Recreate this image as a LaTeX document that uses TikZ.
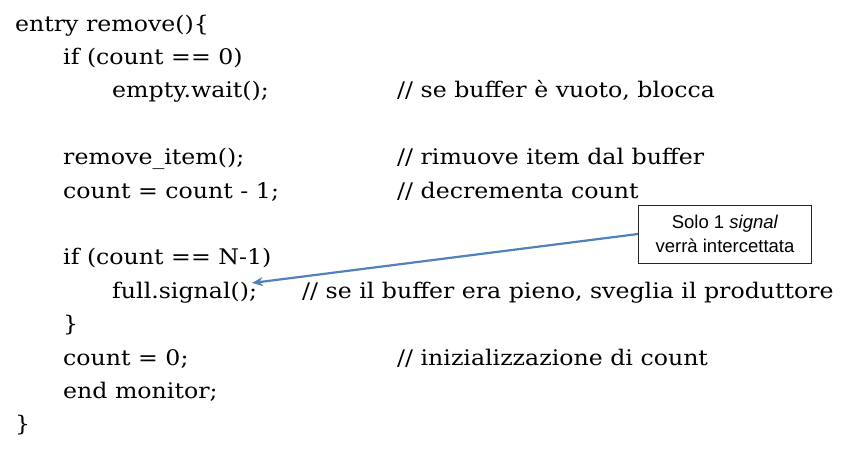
\documentclass[tikz,border=0pt]{standalone}
\usepackage{fontspec}
\setmainfont{DejaVu Serif}[FakeStretch=1.1]
\newfontfamily\calloutfont{Liberation Sans}
\usetikzlibrary{arrows.meta}
\definecolor{arrowblue}{RGB}{79,129,189}
\begin{document}
\begin{tikzpicture}[x=1pt,y=-1pt,
  code/.style={anchor=base west, inner sep=0pt, font=\fontsize{21.5}{24}\selectfont},
  note/.style={draw=black!85, line width=1pt, fill=white, minimum width=173pt, minimum height=58pt, inner sep=0pt, align=center, font=\calloutfont\fontsize{18.5}{24}\selectfont},
  pointer/.style={draw=arrowblue, line width=2.2pt, -{Stealth[length=11pt,width=9pt]}}]
\useasboundingbox (0,0) rectangle (861,448);
\node[code] (l0) at (15,31) {entry remove()\{};
\node[code] (l1) at (63,64.4) {if (count == 0)};
\node[code] (l2) at (112,97.8) {empty.wait();};
\node[code] (c2) at (397,97.8) {// se buffer è vuoto, blocca};
\node[code] (l4) at (63,164.6) {remove\_item();};
\node[code] (c4) at (397,164.6) {// rimuove item dal buffer};
\node[code] (l5) at (63,198) {count = count - 1;};
\node[code] (c5) at (397,198) {// decrementa count};
\node[code] (l7) at (63,264.8) {if (count == N-1)};
\node[code] (l8) at (112,298.2) {full.signal();};
\node[code] (c8) at (302,298.2) {// se il buffer era pieno, sveglia il produttore};
\node[code] (l9) at (63,331.6) {\}};
\node[code] (l10) at (63,365) {count = 0;};
\node[code] (c10) at (397,365) {// inizializzazione di count};
\node[code] (l11) at (63,398.4) {end monitor;};
\node[code] (l12) at (15,431.8) {\}};
\node[note] (note) at (725,234) {Solo 1 \textit{signal}\\verrà intercettata};
\coordinate (tip) at (252,283);
\draw[pointer] (note.west) -- (tip);
\end{tikzpicture}
\end{document}
